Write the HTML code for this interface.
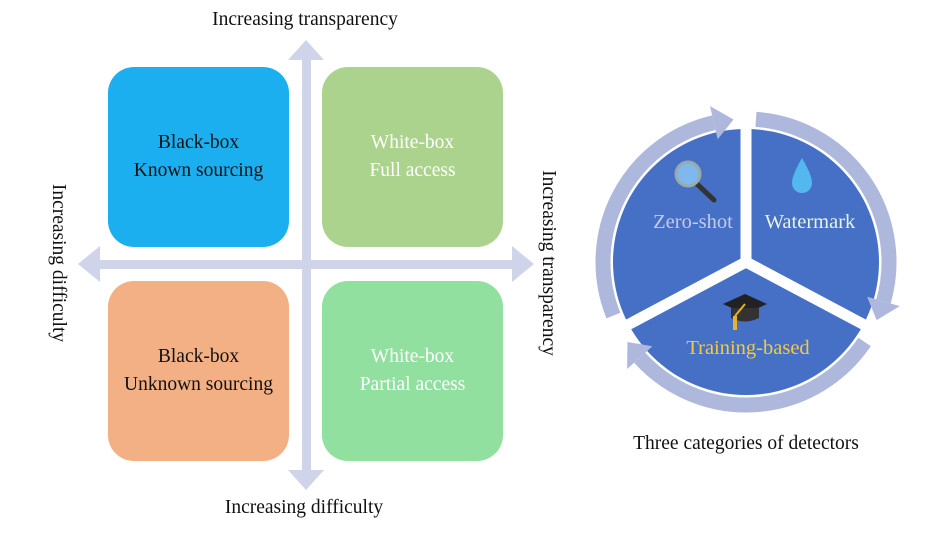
<!DOCTYPE html>
<html><head><meta charset="utf-8"><style>
html,body{margin:0;padding:0;background:#fff;}
body{width:930px;height:538px;overflow:hidden;position:relative;font-family:"Liberation Serif",serif;}
.b{position:absolute;width:181px;height:180px;border-radius:26px;display:flex;flex-direction:column;align-items:center;justify-content:center;text-align:center;font-size:19.5px;line-height:28px;}
.t{position:absolute;font-size:19.5px;white-space:nowrap;color:#111;}
</style></head><body>
<svg width="930" height="538" style="position:absolute;left:0;top:0">
  <g fill="#d0d4ea">
    <rect x="302" y="58" width="9" height="416"/>
    <polygon points="306,40 288,60 324,60"/>
    <polygon points="306,490 288,470 324,470"/>
    <rect x="96" y="260" width="420" height="9"/>
    <polygon points="78,264 100,246 100,282"/>
    <polygon points="534,264 512,246 512,282"/>
  </g>
  <g id="pie"></g>
</svg>
<div class="b" style="left:108px;top:67px;background:#1bafef;color:#111">Black-box<br>Known sourcing</div>
<div class="b" style="left:322px;top:67px;background:#abd38e;color:#fff">White-box<br>Full access</div>
<div class="b" style="left:108px;top:281px;background:#f2b084;color:#111">Black-box<br>Unknown sourcing</div>
<div class="b" style="left:322px;top:281px;background:#92e09f;color:#fff">White-box<br>Partial access</div>
<div class="t" style="left:305px;top:9px;transform:translateX(-50%)">Increasing transparency</div>
<div class="t" style="left:304px;top:497px;transform:translateX(-50%)">Increasing difficulty</div>
<div class="t" style="left:58px;top:263px;transform:translate(-50%,-50%) rotate(90deg)">Increasing difficulty</div>
<div class="t" style="left:548px;top:263px;transform:translate(-50%,-50%) rotate(90deg)">Increasing transparency</div>
<div class="t" style="left:746px;top:433px;transform:translateX(-50%)">Three categories of detectors</div>
<script>
var cx=746,cy=262,R=133;
function p(a,r){a=a*Math.PI/180;return [cx+r*Math.sin(a),cy-r*Math.cos(a)];}
var s='';
s+='<circle cx="'+cx+'" cy="'+cy+'" r="'+R+'" fill="#4570c6"/>';
[0,118,242].forEach(function(a){var q=p(a,R+4);s+='<line x1="'+cx+'" y1="'+cy+'" x2="'+q[0]+'" y2="'+q[1]+'" stroke="#fff" stroke-width="11"/>';});
var arcs=[[248,355],[4,114],[124,236]];
arcs.forEach(function(a){
 var st=a[0],en=a[1]-8,r=143;
 var A=p(st,r),B=p(en,r);
 var large=((en-st+360)%360)>180?1:0;
 s+='<path d="M'+A[0]+' '+A[1]+' A'+r+' '+r+' 0 '+large+' 1 '+B[0]+' '+B[1]+'" fill="none" stroke="#aeb8dd" stroke-width="15"/>';
 var t=p(a[1],r),b1=p(en,r-17),b2=p(en,r+17);
 s+='<polygon points="'+t+' '+b1+' '+b2+'" fill="#aeb8dd"/>';
});
s+='<line x1="697" y1="184" x2="714" y2="200" stroke="#333" stroke-width="5" stroke-linecap="round"/>';
s+='<circle cx="688" cy="174" r="12" fill="#7fb8ec" stroke="#9aa" stroke-width="3"/>';
s+='<path d="M802 158 Q792 175 792 183 A10 10 0 0 0 812 183 Q812 175 802 158Z" fill="#52b8ef"/>';
s+='<polygon points="745,294 767,304 745,314 723,304" fill="#222"/>';
s+='<path d="M731 308 L731 318 Q745 325 759 318 L759 308 Z" fill="#333"/>';
s+='<line x1="745" y1="304" x2="735" y2="316" stroke="#e6b32a" stroke-width="2"/><rect x="733" y="316" width="4" height="14" fill="#e6b32a"/>';
s+='<text x="693" y="228" font-family="Liberation Serif" font-size="20.5" fill="#c2cbe8" text-anchor="middle">Zero-shot</text>';
s+='<text x="810" y="228" font-family="Liberation Serif" font-size="20.5" fill="#e6f2e2" text-anchor="middle">Watermark</text>';
s+='<text x="748" y="354" font-family="Liberation Serif" font-size="20.5" fill="#f7c940" text-anchor="middle">Training-based</text>';
document.getElementById('pie').innerHTML=s;
</script>
</body></html>
